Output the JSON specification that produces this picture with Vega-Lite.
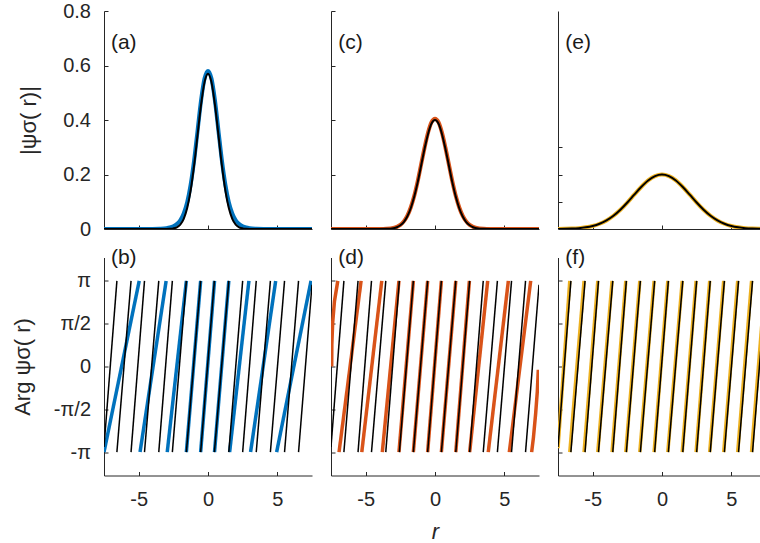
{
  "$schema": "https://vega.github.io/schema/vega-lite/v6.json",
  "background": "white",
  "padding": {"left": 11, "top": 1, "right": 0, "bottom": 0},
  "autosize": {"type": "pad"},
  "config": {
    "view": {"stroke": null},
    "axis": {
      "domainColor": "#262626", "tickColor": "#262626", "labelColor": "#262626", "titleColor": "#262626",
      "labelFont": "Liberation Sans", "titleFont": "Liberation Sans", "labelFontSize": 20, "titleFontSize": 22,
      "titleFontWeight": "normal", "grid": false, "tickSize": -4, "domainWidth": 1, "tickWidth": 1,
      "labelFlush": false, "labelOverlap": false
    },
    "axisX": {"labelPadding": 18},
    "axisY": {"labelPadding": 17.5}
  },
  "datasets": {
    "amp": [
      {"p":"a","r":-7.5,"k":0,"c":0},{"p":"a","r":-5,"k":0,"c":0},{"p":"a","r":-4,"k":0,"c":0.0003},{"p":"a","r":-3.5,"k":0,"c":0.001},
      {"p":"a","r":-3,"k":0.0002,"c":0.003},{"p":"a","r":-2.75,"k":0.0007,"c":0.0055},{"p":"a","r":-2.5,"k":0.0022,"c":0.01},
      {"p":"a","r":-2.25,"k":0.0063,"c":0.018},{"p":"a","r":-2,"k":0.0163,"c":0.032},{"p":"a","r":-1.75,"k":0.0375,"c":0.057},
      {"p":"a","r":-1.5,"k":0.077,"c":0.098},{"p":"a","r":-1.25,"k":0.142,"c":0.163},{"p":"a","r":-1,"k":0.234,"c":0.252},
      {"p":"a","r":-0.75,"k":0.346,"c":0.362},{"p":"a","r":-0.5,"k":0.456,"c":0.472},{"p":"a","r":-0.25,"k":0.539,"c":0.552},
      {"p":"a","r":0,"k":0.57,"c":0.58},
      {"p":"a","r":0.25,"k":0.539,"c":0.552},{"p":"a","r":0.5,"k":0.456,"c":0.472},{"p":"a","r":0.75,"k":0.346,"c":0.362},
      {"p":"a","r":1,"k":0.234,"c":0.252},{"p":"a","r":1.25,"k":0.142,"c":0.163},{"p":"a","r":1.5,"k":0.077,"c":0.098},
      {"p":"a","r":1.75,"k":0.0375,"c":0.057},{"p":"a","r":2,"k":0.0163,"c":0.032},{"p":"a","r":2.25,"k":0.0063,"c":0.018},
      {"p":"a","r":2.5,"k":0.0022,"c":0.01},{"p":"a","r":2.75,"k":0.0007,"c":0.0055},{"p":"a","r":3,"k":0.0002,"c":0.003},
      {"p":"a","r":3.5,"k":0,"c":0.001},{"p":"a","r":4,"k":0,"c":0.0003},{"p":"a","r":5,"k":0,"c":0},{"p":"a","r":7.5,"k":0,"c":0},

      {"p":"c","r":-7.5,"k":0,"c":0},{"p":"c","r":-5,"k":0,"c":0},{"p":"c","r":-4.5,"k":0,"c":0.0001},{"p":"c","r":-4,"k":0.0001,"c":0.0002},
      {"p":"c","r":-3.5,"k":0.0005,"c":0.001},{"p":"c","r":-3,"k":0.003,"c":0.004},{"p":"c","r":-2.75,"k":0.0066,"c":0.008},
      {"p":"c","r":-2.5,"k":0.0135,"c":0.015},{"p":"c","r":-2.25,"k":0.0256,"c":0.028},{"p":"c","r":-2,"k":0.0456,"c":0.048},
      {"p":"c","r":-1.75,"k":0.076,"c":0.079},{"p":"c","r":-1.5,"k":0.118,"c":0.121},{"p":"c","r":-1.25,"k":0.171,"c":0.175},
      {"p":"c","r":-1,"k":0.233,"c":0.237},{"p":"c","r":-0.75,"k":0.295,"c":0.299},{"p":"c","r":-0.5,"k":0.349,"c":0.354},
      {"p":"c","r":-0.25,"k":0.387,"c":0.392},{"p":"c","r":0,"k":0.4,"c":0.405},
      {"p":"c","r":0.25,"k":0.387,"c":0.392},{"p":"c","r":0.5,"k":0.349,"c":0.354},{"p":"c","r":0.75,"k":0.295,"c":0.299},
      {"p":"c","r":1,"k":0.233,"c":0.237},{"p":"c","r":1.25,"k":0.171,"c":0.175},{"p":"c","r":1.5,"k":0.118,"c":0.121},
      {"p":"c","r":1.75,"k":0.076,"c":0.079},{"p":"c","r":2,"k":0.0456,"c":0.048},{"p":"c","r":2.25,"k":0.0256,"c":0.028},
      {"p":"c","r":2.5,"k":0.0135,"c":0.015},{"p":"c","r":2.75,"k":0.0066,"c":0.008},{"p":"c","r":3,"k":0.003,"c":0.004},
      {"p":"c","r":3.5,"k":0.0005,"c":0.001},{"p":"c","r":4,"k":0.0001,"c":0.0002},{"p":"c","r":4.5,"k":0,"c":0.0001},
      {"p":"c","r":5,"k":0,"c":0},{"p":"c","r":7.5,"k":0,"c":0},

      {"p":"e","r":-7.5,"k":0.0003,"c":0.0003},{"p":"e","r":-7,"k":0.0007,"c":0.0007},{"p":"e","r":-6.5,"k":0.0015,"c":0.0015},
      {"p":"e","r":-6,"k":0.0031,"c":0.0031},{"p":"e","r":-5.5,"k":0.0061,"c":0.0061},{"p":"e","r":-5,"k":0.0111,"c":0.0111},
      {"p":"e","r":-4.5,"k":0.0193,"c":0.0193},{"p":"e","r":-4,"k":0.0315,"c":0.0315},{"p":"e","r":-3.5,"k":0.0486,"c":0.0486},
      {"p":"e","r":-3,"k":0.0707,"c":0.0707},{"p":"e","r":-2.5,"k":0.0971,"c":0.0971},{"p":"e","r":-2,"k":0.126,"c":0.126},
      {"p":"e","r":-1.5,"k":0.1542,"c":0.1542},{"p":"e","r":-1,"k":0.1782,"c":0.1782},{"p":"e","r":-0.5,"k":0.1943,"c":0.1943},
      {"p":"e","r":0,"k":0.2,"c":0.2},
      {"p":"e","r":0.5,"k":0.1943,"c":0.1943},{"p":"e","r":1,"k":0.1782,"c":0.1782},{"p":"e","r":1.5,"k":0.1542,"c":0.1542},
      {"p":"e","r":2,"k":0.126,"c":0.126},{"p":"e","r":2.5,"k":0.0971,"c":0.0971},{"p":"e","r":3,"k":0.0707,"c":0.0707},
      {"p":"e","r":3.5,"k":0.0486,"c":0.0486},{"p":"e","r":4,"k":0.0315,"c":0.0315},{"p":"e","r":4.5,"k":0.0193,"c":0.0193},
      {"p":"e","r":5,"k":0.0111,"c":0.0111},{"p":"e","r":5.5,"k":0.0061,"c":0.0061},{"p":"e","r":6,"k":0.0031,"c":0.0031},
      {"p":"e","r":6.5,"k":0.0015,"c":0.0015},{"p":"e","r":7,"k":0.0007,"c":0.0007},{"p":"e","r":7.5,"k":0.0003,"c":0.0003}
    ],
    "blk": [
      {"s":0,"r":-7.5,"v":-2.95},{"s":0,"r":-6.57,"v":3.1416},
      {"s":1,"r":-6.57,"v":-3.1416},{"s":1,"r":-5.55,"v":3.1416},
      {"s":2,"r":-5.55,"v":-3.1416},{"s":2,"r":-4.58,"v":3.1416},
      {"s":3,"r":-4.58,"v":-3.1416},{"s":3,"r":-3.55,"v":3.1416},
      {"s":4,"r":-3.55,"v":-3.1416},{"s":4,"r":-2.57,"v":3.1416},
      {"s":5,"r":-2.57,"v":-3.1416},{"s":5,"r":-1.56,"v":3.1416},
      {"s":6,"r":-1.56,"v":-3.1416},{"s":6,"r":-0.53,"v":3.1416},
      {"s":7,"r":-0.53,"v":-3.1416},{"s":7,"r":0.46,"v":3.1416},
      {"s":8,"r":0.46,"v":-3.1416},{"s":8,"r":1.5,"v":3.1416},
      {"s":9,"r":1.5,"v":-3.1416},{"s":9,"r":2.5,"v":3.1416},
      {"s":10,"r":2.5,"v":-3.1416},{"s":10,"r":3.48,"v":3.1416},
      {"s":11,"r":3.48,"v":-3.1416},{"s":11,"r":4.5,"v":3.1416},
      {"s":12,"r":4.5,"v":-3.1416},{"s":12,"r":5.52,"v":3.1416},
      {"s":13,"r":5.52,"v":-3.1416},{"s":13,"r":6.53,"v":3.1416},
      {"s":14,"r":6.53,"v":-3.1416},{"s":14,"r":7.5,"v":3.0}
    ],
    "ph": [
      {"p":"b","s":1,"r":-7.5,"v":-3.1416},{"p":"b","s":1,"r":-4.96,"v":3.1416},
      {"p":"b","s":2,"r":-4.9,"v":-3.1416},{"p":"b","s":2,"r":-3.02,"v":3.1416},
      {"p":"b","s":3,"r":-2.94,"v":-3.1416},{"p":"b","s":3,"r":-1.56,"v":3.1416},
      {"p":"b","s":4,"r":-1.56,"v":-3.1416},{"p":"b","s":4,"r":-0.53,"v":3.1416},
      {"p":"b","s":5,"r":-0.53,"v":-3.1416},{"p":"b","s":5,"r":0.47,"v":3.1416},
      {"p":"b","s":6,"r":0.47,"v":-3.1416},{"p":"b","s":6,"r":1.5,"v":3.1416},
      {"p":"b","s":7,"r":1.56,"v":-3.1416},{"p":"b","s":7,"r":2.95,"v":3.1416},
      {"p":"b","s":8,"r":3.07,"v":-3.1416},{"p":"b","s":8,"r":4.88,"v":3.1416},
      {"p":"b","s":9,"r":4.95,"v":-3.1416},{"p":"b","s":9,"r":7.43,"v":3.1416},

      {"p":"d","s":1,"r":-7.45,"v":0},{"p":"d","s":1,"r":-7.44,"v":0.8},{"p":"d","s":1,"r":-7.38,"v":1.6},{"p":"d","s":1,"r":-7.25,"v":2.4},{"p":"d","s":1,"r":-7.01,"v":3.1416},
      {"p":"d","s":2,"r":-6.92,"v":-3.1416},{"p":"d","s":2,"r":-5.33,"v":3.1416},
      {"p":"d","s":3,"r":-5.28,"v":-3.1416},{"p":"d","s":3,"r":-3.84,"v":3.1416},
      {"p":"d","s":4,"r":-3.8,"v":-3.1416},{"p":"d","s":4,"r":-2.6,"v":3.1416},
      {"p":"d","s":5,"r":-2.6,"v":-3.1416},{"p":"d","s":5,"r":-1.56,"v":3.1416},
      {"p":"d","s":6,"r":-1.56,"v":-3.1416},{"p":"d","s":6,"r":-0.53,"v":3.1416},
      {"p":"d","s":7,"r":-0.53,"v":-3.1416},{"p":"d","s":7,"r":0.46,"v":3.1416},
      {"p":"d","s":8,"r":0.46,"v":-3.1416},{"p":"d","s":8,"r":1.5,"v":3.1416},
      {"p":"d","s":9,"r":1.5,"v":-3.1416},{"p":"d","s":9,"r":2.48,"v":3.1416},
      {"p":"d","s":10,"r":2.5,"v":-3.1416},{"p":"d","s":10,"r":3.8,"v":3.1416},
      {"p":"d","s":11,"r":3.84,"v":-3.1416},{"p":"d","s":11,"r":5.29,"v":3.1416},
      {"p":"d","s":12,"r":5.36,"v":-3.1416},{"p":"d","s":12,"r":6.9,"v":3.1416},
      {"p":"d","s":13,"r":6.97,"v":-3.1416},{"p":"d","s":13,"r":7.1,"v":-2.6},{"p":"d","s":13,"r":7.26,"v":-1.72},{"p":"d","s":13,"r":7.38,"v":-0.9},{"p":"d","s":13,"r":7.45,"v":-0.12},

      {"p":"f","s":0,"r":-7.5,"v":-3.0},{"p":"f","s":0,"r":-6.65,"v":3.1416},
      {"p":"f","s":1,"r":-6.65,"v":-3.1416},{"p":"f","s":1,"r":-5.62,"v":3.1416},
      {"p":"f","s":2,"r":-5.62,"v":-3.1416},{"p":"f","s":2,"r":-4.63,"v":3.1416},
      {"p":"f","s":3,"r":-4.63,"v":-3.1416},{"p":"f","s":3,"r":-3.6,"v":3.1416},
      {"p":"f","s":4,"r":-3.6,"v":-3.1416},{"p":"f","s":4,"r":-2.61,"v":3.1416},
      {"p":"f","s":5,"r":-2.61,"v":-3.1416},{"p":"f","s":5,"r":-1.6,"v":3.1416},
      {"p":"f","s":6,"r":-1.6,"v":-3.1416},{"p":"f","s":6,"r":-0.57,"v":3.1416},
      {"p":"f","s":7,"r":-0.57,"v":-3.1416},{"p":"f","s":7,"r":0.42,"v":3.1416},
      {"p":"f","s":8,"r":0.42,"v":-3.1416},{"p":"f","s":8,"r":1.46,"v":3.1416},
      {"p":"f","s":9,"r":1.46,"v":-3.1416},{"p":"f","s":9,"r":2.46,"v":3.1416},
      {"p":"f","s":10,"r":2.46,"v":-3.1416},{"p":"f","s":10,"r":3.44,"v":3.1416},
      {"p":"f","s":11,"r":3.44,"v":-3.1416},{"p":"f","s":11,"r":4.45,"v":3.1416},
      {"p":"f","s":12,"r":4.45,"v":-3.1416},{"p":"f","s":12,"r":5.46,"v":3.1416},
      {"p":"f","s":13,"r":5.46,"v":-3.1416},{"p":"f","s":13,"r":6.46,"v":3.1416},
      {"p":"f","s":14,"r":6.46,"v":-3.1416},{"p":"f","s":14,"r":7.45,"v":3.1416}
    ]
  },
  "columns": 3,
  "align": "each",
  "spacing": {"row": 7.5, "column": 18},
  "concat": [
    {
      "width": 208, "height": 218,
      "layer": [
        {"data": {"name": "amp"}, "transform": [{"filter": "datum.p == 'a'"}],
         "mark": {"type": "line", "color": "#0072BD", "strokeWidth": 4, "interpolate": "monotone", "clip": true},
         "encoding": {
           "x": {"field": "r", "type": "quantitative", "scale": {"domain": [-7.5, 7.5], "nice": false, "zero": false},
                 "axis": {"values": [-5, 0, 5], "labels": false, "title": null}},
           "y": {"field": "c", "type": "quantitative", "scale": {"domain": [0, 0.8], "nice": false},
                 "axis": {"values": [0, 0.2, 0.4, 0.6, 0.8], "labelExpr": "datum.value == 0 ? '0' : format(datum.value, '.1f')", "title": "|ψσ( r)|", "titlePadding": 22.5}}}},
        {"data": {"name": "amp"}, "transform": [{"filter": "datum.p == 'a'"}],
         "mark": {"type": "line", "color": "#000000", "strokeWidth": 2, "interpolate": "monotone", "clip": true},
         "encoding": {"x": {"field": "r", "type": "quantitative"}, "y": {"field": "k", "type": "quantitative"}}},
        {"data": {"values": [{"t": "(a)"}]},
         "mark": {"type": "text", "align": "left", "baseline": "middle", "font": "Liberation Sans", "fontSize": 21, "color": "#1a1a1a"},
         "encoding": {"x": {"datum": -7.0, "type": "quantitative"}, "y": {"datum": 0.684, "type": "quantitative"}, "text": {"field": "t"}}}
      ]
    },
    {
      "width": 208, "height": 218,
      "layer": [
        {"data": {"name": "amp"}, "transform": [{"filter": "datum.p == 'c'"}],
         "mark": {"type": "line", "color": "#D95319", "strokeWidth": 4, "interpolate": "monotone", "clip": true},
         "encoding": {
           "x": {"field": "r", "type": "quantitative", "scale": {"domain": [-7.5, 7.5], "nice": false, "zero": false},
                 "axis": {"values": [-5, 0, 5], "labels": false, "title": null}},
           "y": {"field": "c", "type": "quantitative", "scale": {"domain": [0, 0.8], "nice": false},
                 "axis": {"values": [0, 0.2, 0.4, 0.6, 0.8], "labels": false, "title": null}}}},
        {"data": {"name": "amp"}, "transform": [{"filter": "datum.p == 'c'"}],
         "mark": {"type": "line", "color": "#000000", "strokeWidth": 2, "interpolate": "monotone", "clip": true},
         "encoding": {"x": {"field": "r", "type": "quantitative"}, "y": {"field": "k", "type": "quantitative"}}},
        {"data": {"values": [{"t": "(c)"}]},
         "mark": {"type": "text", "align": "left", "baseline": "middle", "font": "Liberation Sans", "fontSize": 21, "color": "#1a1a1a"},
         "encoding": {"x": {"datum": -6.97, "type": "quantitative"}, "y": {"datum": 0.684, "type": "quantitative"}, "text": {"field": "t"}}}
      ]
    },
    {
      "width": 203, "height": 218,
      "layer": [
        {"data": {"name": "amp"}, "transform": [{"filter": "datum.p == 'e'"}],
         "mark": {"type": "line", "color": "#EDB120", "strokeWidth": 4, "interpolate": "monotone", "clip": true},
         "encoding": {
           "x": {"field": "r", "type": "quantitative", "scale": {"domain": [-7.5, 7.14], "nice": false, "zero": false},
                 "axis": {"values": [-5, 0, 5], "labels": false, "title": null}},
           "y": {"field": "c", "type": "quantitative", "scale": {"domain": [0, 0.8], "nice": false},
                 "axis": {"values": [0.1, 0.2, 0.3], "labels": false, "title": null}}}},
        {"data": {"name": "amp"}, "transform": [{"filter": "datum.p == 'e'"}],
         "mark": {"type": "line", "color": "#000000", "strokeWidth": 2, "interpolate": "monotone", "clip": true},
         "encoding": {"x": {"field": "r", "type": "quantitative"}, "y": {"field": "k", "type": "quantitative"}}},
        {"data": {"values": [{"t": "(e)"}]},
         "mark": {"type": "text", "align": "left", "baseline": "middle", "font": "Liberation Sans", "fontSize": 21, "color": "#1a1a1a"},
         "encoding": {"x": {"datum": -6.97, "type": "quantitative"}, "y": {"datum": 0.684, "type": "quantitative"}, "text": {"field": "t"}}}
      ]
    },
    {
      "width": 208, "height": 218,
      "layer": [
        {"data": {"name": "ph"}, "transform": [{"filter": "datum.p == 'b'"}],
         "mark": {"type": "line", "color": "#0072BD", "strokeWidth": 3.5, "clip": true},
         "encoding": {
           "x": {"field": "r", "type": "quantitative", "scale": {"domain": [-7.5, 7.5], "nice": false, "zero": false},
                 "axis": {"values": [-5, 0, 5], "labelExpr": "datum.value < 0 ? '-' + format(-datum.value, 'd') : format(datum.value, 'd')", "title": null}},
           "y": {"field": "v", "type": "quantitative", "scale": {"domain": [-4, 4], "nice": false, "zero": false},
                 "axis": {"values": [-3.1416, -1.5708, 0, 1.5708, 3.1416], "labelExpr": "datum.value > 3 ? 'π' : datum.value > 1 ? 'π/2' : datum.value < -3 ? '-π' : datum.value < -1 ? '-π/2' : '0'", "title": "Arg  ψσ( r)", "titlePadding": 19}},
           "detail": {"field": "s", "type": "nominal"}}},
        {"data": {"name": "blk"},
         "mark": {"type": "line", "color": "#000000", "strokeWidth": 1.5, "clip": true},
         "encoding": {"x": {"field": "r", "type": "quantitative"}, "y": {"field": "v", "type": "quantitative"}, "detail": {"field": "s", "type": "nominal"}}},
        {"data": {"values": [{"t": "(b)"}]},
         "mark": {"type": "text", "align": "left", "baseline": "middle", "font": "Liberation Sans", "fontSize": 21, "color": "#1a1a1a"},
         "encoding": {"x": {"datum": -7.0, "type": "quantitative"}, "y": {"datum": 4.0, "type": "quantitative"}, "text": {"field": "t"}}}
      ]
    },
    {
      "width": 208, "height": 218,
      "layer": [
        {"data": {"name": "ph"}, "transform": [{"filter": "datum.p == 'd'"}],
         "mark": {"type": "line", "color": "#D95319", "strokeWidth": 3.5, "clip": true},
         "encoding": {
           "x": {"field": "r", "type": "quantitative", "scale": {"domain": [-7.5, 7.5], "nice": false, "zero": false},
                 "axis": {"values": [-5, 0, 5], "labelExpr": "datum.value < 0 ? '-' + format(-datum.value, 'd') : format(datum.value, 'd')", "title": "r", "titleFontStyle": "italic", "titlePadding": 12}},
           "y": {"field": "v", "type": "quantitative", "scale": {"domain": [-4, 4], "nice": false, "zero": false},
                 "axis": {"values": [-3.1416, -1.5708, 0, 1.5708, 3.1416], "labels": false, "title": null}},
           "detail": {"field": "s", "type": "nominal"}}},
        {"data": {"name": "blk"},
         "mark": {"type": "line", "color": "#000000", "strokeWidth": 1.5, "clip": true},
         "encoding": {"x": {"field": "r", "type": "quantitative"}, "y": {"field": "v", "type": "quantitative"}, "detail": {"field": "s", "type": "nominal"}}},
        {"data": {"values": [{"t": "(d)"}]},
         "mark": {"type": "text", "align": "left", "baseline": "middle", "font": "Liberation Sans", "fontSize": 21, "color": "#1a1a1a"},
         "encoding": {"x": {"datum": -6.97, "type": "quantitative"}, "y": {"datum": 4.0, "type": "quantitative"}, "text": {"field": "t"}}}
      ]
    },
    {
      "width": 203, "height": 218,
      "layer": [
        {"data": {"name": "ph"}, "transform": [{"filter": "datum.p == 'f'"}],
         "mark": {"type": "line", "color": "#EDB120", "strokeWidth": 3.5, "clip": true},
         "encoding": {
           "x": {"field": "r", "type": "quantitative", "scale": {"domain": [-7.5, 7.14], "nice": false, "zero": false},
                 "axis": {"values": [-5, 0, 5], "labelExpr": "datum.value < 0 ? '-' + format(-datum.value, 'd') : format(datum.value, 'd')", "title": null}},
           "y": {"field": "v", "type": "quantitative", "scale": {"domain": [-4, 4], "nice": false, "zero": false},
                 "axis": {"values": [-3.1416, -1.5708, 0, 1.5708, 3.1416], "labels": false, "title": null}},
           "detail": {"field": "s", "type": "nominal"}}},
        {"data": {"name": "blk"},
         "mark": {"type": "line", "color": "#000000", "strokeWidth": 1.5, "clip": true},
         "encoding": {"x": {"field": "r", "type": "quantitative"}, "y": {"field": "v", "type": "quantitative"}, "detail": {"field": "s", "type": "nominal"}}},
        {"data": {"values": [{"t": "(f)"}]},
         "mark": {"type": "text", "align": "left", "baseline": "middle", "font": "Liberation Sans", "fontSize": 21, "color": "#1a1a1a"},
         "encoding": {"x": {"datum": -6.97, "type": "quantitative"}, "y": {"datum": 4.0, "type": "quantitative"}, "text": {"field": "t"}}}
      ]
    }
  ]
}
